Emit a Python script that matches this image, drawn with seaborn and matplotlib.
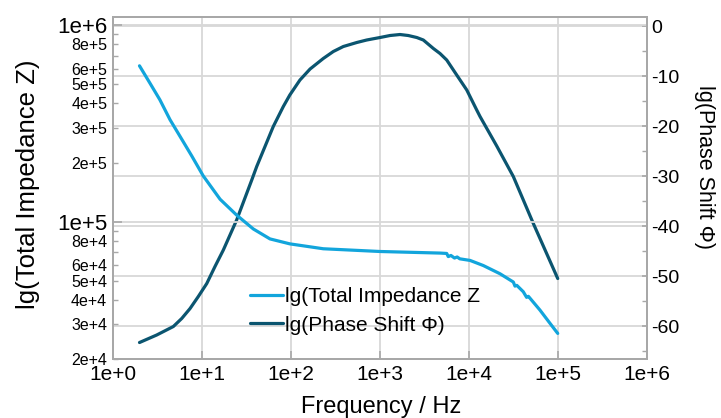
import matplotlib
matplotlib.use("Agg")
import matplotlib.pyplot as plt
import matplotlib.ticker as mticker
import pandas as pd
import seaborn as sns

# Impedance spectrum: frequency (Hz) and total impedance |Z| (Ohm)
imp_freq = [2.0, 2.62, 3.39, 4.41, 5.70, 7.73, 10.4, 16.1, 24.7, 38.0, 58.5,
            97.7, 232, 1007, 4790, 5660, 5890, 6310, 6920, 7410, 7940, 10350,
            14590, 22490, 31700, 33100, 34700, 41000, 44700, 46800, 63100,
            81800, 100000]
imp_z = [6.21e5, 5.07e5, 4.17e5, 3.30e5, 2.72e5, 2.16e5, 1.71e5, 1.30e5,
         1.08e5, 9.18e4, 8.17e4, 7.71e4, 7.28e4, 7.05e4, 6.92e4, 6.89e4,
         6.64e4, 6.73e4, 6.53e4, 6.61e4, 6.47e4, 6.35e4, 5.98e4, 5.43e4,
         4.93e4, 4.70e4, 4.74e4, 4.40e4, 4.12e4, 4.17e4, 3.55e4, 3.04e4,
         2.70e4]

# Phase shift (degrees)
phase_freq = [2.0, 3.12, 4.8, 5.96, 7.4, 9.16, 11.4, 14.1, 17.5, 24.7, 36.5,
              41.5, 63.7, 82.6, 97.7, 127, 165, 232, 301, 390, 552, 714, 1007,
              1306, 1690, 2094, 2610, 3090, 4010, 4760, 5660, 7330, 9510,
              12300, 13400, 20650, 31700, 53200, 100000]
phase_deg = [-63.3, -61.8, -60.1, -58.5, -56.5, -54.1, -51.5, -48.1, -44.8,
             -38.8, -30.8, -28.1, -20.1, -16.1, -13.8, -10.8, -8.6, -6.5,
             -5.1, -4.1, -3.3, -2.8, -2.3, -1.9, -1.7, -1.9, -2.3, -2.8,
             -4.5, -5.5, -6.8, -9.8, -12.8, -16.8, -18.1, -24.0, -30.1,
             -39.5, -50.5]

x_ticks = [1e0, 1e1, 1e2, 1e3, 1e4, 1e5, 1e6]
x_ticklabels = ["1e+0", "1e+1", "1e+2", "1e+3", "1e+4", "1e+5", "1e+6"]
z_major = [1e5, 1e6]
z_major_labels = ["1e+5", "1e+6"]
z_minor = [2e4, 3e4, 4e4, 5e4, 6e4, 7e4, 8e4, 9e4,
           2e5, 3e5, 4e5, 5e5, 6e5, 7e5, 8e5, 9e5]
z_minor_labels = ["2e+4", "3e+4", "4e+4", "5e+4", "6e+4", "", "8e+4", "",
                  "2e+5", "3e+5", "4e+5", "5e+5", "6e+5", "", "8e+5", ""]
phase_major = [0, -10, -20, -30, -40, -50, -60]
phase_minor = [-5, -15, -25, -35, -45, -55, -65]

imp_df = pd.DataFrame({"freq": imp_freq, "z": imp_z})
phase_df = pd.DataFrame({"freq": phase_freq, "phase": phase_deg})

sns.set_theme(style="white")
plt.rcParams["font.family"] = ["Liberation Sans", "DejaVu Sans"]

C_IMP = "#12a5dc"
C_PHASE = "#0b5570"
SPINE = "#a8a8a8"
GRID = "#d8d8d8"

fig = plt.figure(figsize=(7.21, 4.18), dpi=100)
ax = fig.add_axes([0.1563, 0.1411, 0.7407, 0.8182])
ax2 = ax.twinx()

# phase axis sits behind so that its grid stays under both curves
ax2.set_zorder(0)
ax.set_zorder(1)
ax.patch.set_visible(False)
ax2.patch.set_visible(True)
ax2.patch.set_facecolor("white")
ax2.xaxis.set_visible(True)

sns.lineplot(data=phase_df, x="freq", y="phase", ax=ax2, color=C_PHASE,
             linewidth=2.3, sort=False, legend=False)
sns.lineplot(data=imp_df, x="freq", y="z", ax=ax, color=C_IMP,
             linewidth=2.3, sort=False, legend=False)

for a in (ax, ax2):
    a.set_xscale("log")
    a.set_xlim(1, 1e6)
ax.set_yscale("log")
ax.set_ylim(2.0e4, 1.1e6)
ax2.set_ylim(-66.6, 1.8)

# x axis
ax.xaxis.set_major_locator(mticker.FixedLocator(x_ticks))
ax.xaxis.set_major_formatter(mticker.FixedFormatter(x_ticklabels))
ax.xaxis.set_minor_locator(mticker.NullLocator())
ax2.xaxis.set_major_locator(mticker.FixedLocator(x_ticks))
ax2.xaxis.set_minor_locator(mticker.NullLocator())
ax2.tick_params(axis="x", which="both", bottom=False, top=False,
                labelbottom=False, labeltop=False)
ax2.set_xlabel("")

# left (impedance) axis
ax.yaxis.set_major_locator(mticker.FixedLocator(z_major))
ax.yaxis.set_major_formatter(mticker.FixedFormatter(z_major_labels))
ax.yaxis.set_minor_locator(mticker.FixedLocator(z_minor))
ax.yaxis.set_minor_formatter(mticker.FixedFormatter(z_minor_labels))

# right (phase) axis
ax2.yaxis.set_major_locator(mticker.FixedLocator(phase_major))
ax2.yaxis.set_minor_locator(mticker.FixedLocator(phase_minor))
ax2.yaxis.set_major_formatter(mticker.FuncFormatter(lambda v, p: f"{v:g}"))

ax.tick_params(axis="x", which="major", direction="in", length=6, width=1.2,
               color=SPINE, labelsize=15, pad=4.5, labelcolor="black",
               bottom=True, top=False)
ax.tick_params(axis="y", which="major", direction="in", length=6.5, width=1.2,
               color=SPINE, labelsize=16, pad=4, labelcolor="black",
               left=True, right=False)
ax.tick_params(axis="y", which="minor", direction="in", length=3.3, width=1.0,
               color=SPINE, labelsize=11.5, pad=4, labelcolor="black",
               left=True, right=False)
ax2.tick_params(axis="y", which="major", direction="in", length=3.8, width=1.2,
                color=SPINE, labelsize=14, pad=3, labelcolor="black",
                right=True, left=False)
ax2.tick_params(axis="y", which="minor", direction="in", length=3.3, width=1.0,
                color=SPINE, right=True, left=False)

# grids: decades on x, phase majors, plus the two impedance decades
ax2.grid(True, axis="both", which="major", color=GRID, linewidth=1.3)
ax.grid(True, axis="y", which="major", color=GRID, linewidth=1.3)
ax.grid(False, axis="x")
ax.set_axisbelow(True)

for a in (ax, ax2):
    for s in a.spines.values():
        s.set_color(SPINE)
        s.set_linewidth(1.4)

ax.set_xlabel("Frequency / Hz", fontsize=17, color="black")
ax.set_ylabel("lg(Total Impedance Z)", fontsize=18.5, color="black")
ax2.set_ylabel("lg(Phase Shift Φ)", fontsize=15.5, color="black",
               rotation=270)
ax.xaxis.set_label_coords(0.502, -0.108)
ax.yaxis.set_label_coords(-0.137, 0.51)
ax2.yaxis.set_label_coords(1.128, 0.56)

h_imp = plt.Line2D([], [], color=C_IMP, linewidth=2.3)
h_phase = plt.Line2D([], [], color=C_PHASE, linewidth=2.3)
leg = ax.legend([h_imp, h_phase], ["lg(Total Impedance Z", "lg(Phase Shift Φ)"],
                loc="upper left", bbox_to_anchor=(0.3467, 0.313),
                bbox_transform=fig.transFigure, frameon=False, fontsize=15,
                handlelength=1.6, handletextpad=0.1, labelspacing=0.45,
                borderpad=0, borderaxespad=0)
for t in leg.get_texts():
    t.set_color("black")

fig.savefig("out.png", dpi=100)
